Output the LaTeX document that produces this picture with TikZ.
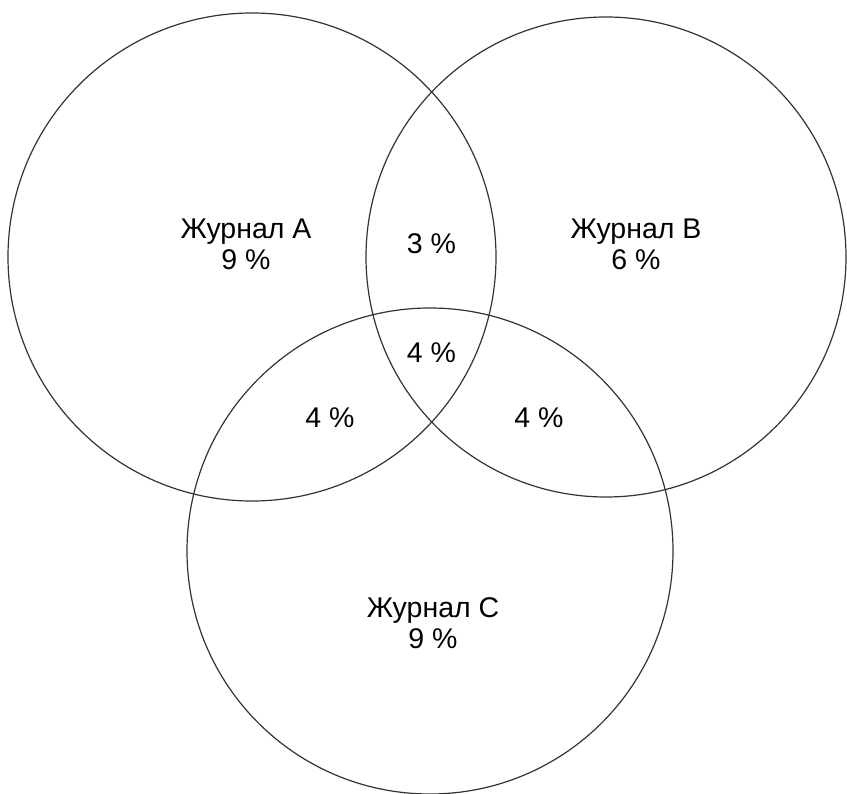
\documentclass[tikz,border=0pt]{standalone}
\usepackage{fontspec}
\setmainfont{Liberation Sans}
\usepackage{tikz}

\begin{document}
\begin{tikzpicture}[x=1pt, y=-1pt,
	ring/.style={draw=black!80, line width=1.2pt},
	share/.style={font=\fontsize{28.5}{31}\selectfont, align=center, inner sep=0pt}]
	\useasboundingbox (0,0) rectangle (847,794);
	\draw [ring] (252,257) circle (244);
	\draw [ring] (606,257) circle (240);
	\draw [ring] (430,551) circle (243);
	\node [share] (jA) at (246,244) {Журнал A\\9 \%};
	\node [share] (jB) at (636,244) {Журнал B\\6 \%};
	\node [share] (jC) at (433,623) {Журнал C\\9 \%};
	\node [share] (ab) at (431.5,244) {3 \%};
	\node [share] (abc) at (431.5,352.5) {4 \%};
	\node [share] (ac) at (330,417.5) {4 \%};
	\node [share] (bc) at (539,417.5) {4 \%};
\end{tikzpicture}
\end{document}
